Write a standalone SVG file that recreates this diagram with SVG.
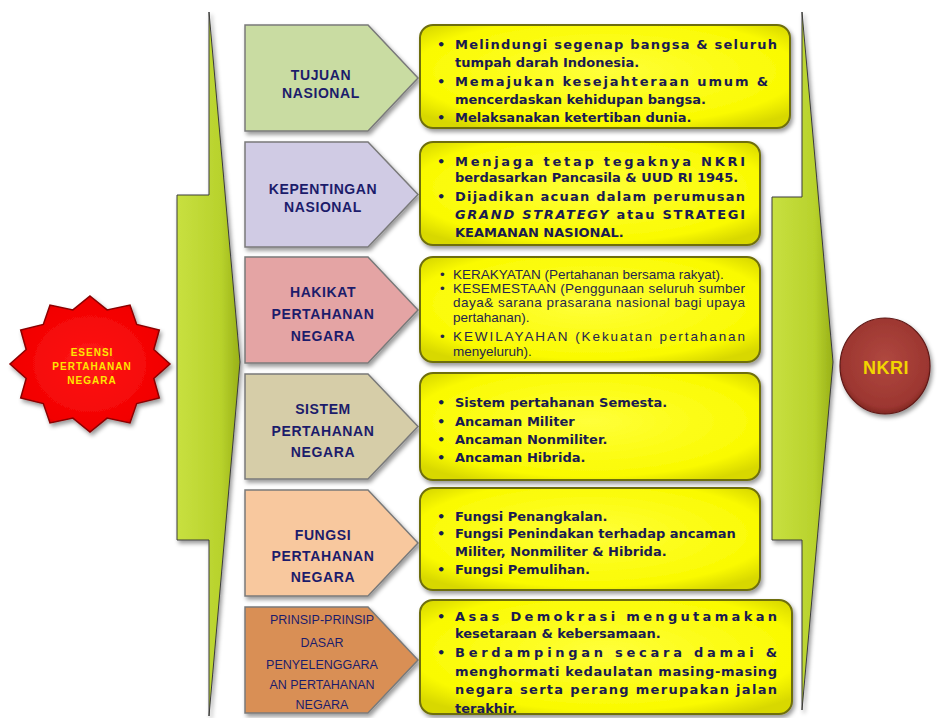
<svg xmlns="http://www.w3.org/2000/svg" width="937" height="718" viewBox="0 0 937 718">
<style>
.lb{font-family:"Liberation Sans",Arial,sans-serif;font-weight:bold;font-size:14px;fill:#1c1c6b;text-anchor:middle;letter-spacing:0.6px}
.lbs{font-family:"Liberation Sans",Arial,sans-serif;font-size:12.5px;fill:#1c1c6b;text-anchor:middle}
.yt{font-family:"DejaVu Sans",Verdana,sans-serif;font-weight:bold;font-size:13px;fill:#1a1a50}
.yr{font-family:"Liberation Sans",Arial,sans-serif;font-size:13.5px;fill:#25254d}
.bu{font-family:"DejaVu Sans",Verdana,sans-serif;font-weight:bold;font-size:13px;fill:#1a1a50}
.st{font-family:"Liberation Sans",Arial,sans-serif;font-weight:bold;font-size:10px;fill:#ffe600;text-anchor:middle;letter-spacing:1px}
.nk{font-family:"Liberation Sans",Arial,sans-serif;font-weight:bold;font-size:18px;fill:#f2d600;text-anchor:middle;letter-spacing:0.5px}
.yb{fill:url(#gy);stroke:#6e6e0c;stroke-width:2;filter:url(#sh)}
.pt{stroke:#7a7a7a;stroke-width:1.5;filter:url(#sh)}
.ga{fill:url(#gg);stroke:#3c3c3c;stroke-width:1;filter:url(#sh)}
</style>
<defs>
<filter id="sh" x="-10%" y="-10%" width="130%" height="130%"><feDropShadow dx="2" dy="3" stdDeviation="2" flood-color="#000" flood-opacity="0.4"/></filter>
<radialGradient id="gy" cx="50%" cy="45%" r="65%"><stop offset="0" stop-color="#ffff3a"/><stop offset="0.8" stop-color="#fafa00"/><stop offset="1" stop-color="#d8d800"/></radialGradient>
<linearGradient id="gg" x1="0" y1="0" x2="1" y2="0"><stop offset="0" stop-color="#c8e040"/><stop offset="0.7" stop-color="#b8d22c"/><stop offset="1" stop-color="#98b018"/></linearGradient>
<radialGradient id="gr" cx="50%" cy="50%" r="55%"><stop offset="0" stop-color="#ff1a1a"/><stop offset="0.85" stop-color="#f20000"/><stop offset="1" stop-color="#b80000"/></radialGradient>
<radialGradient id="gn" cx="50%" cy="45%" r="60%"><stop offset="0" stop-color="#b04840"/><stop offset="0.8" stop-color="#9c3630"/><stop offset="1" stop-color="#6e1c18"/></radialGradient>
</defs>
<rect width="937" height="718" fill="#ffffff"/>

<g id="connectors">
<path class="ga" d="M209,12 L240,362 L209,716 L209,540 L177,540 L177,195 L209,195 Z"/>
<path class="ga" d="M802,12 L833,362 L802,710 L802,540 L772,540 L772,197 L802,197 Z"/>
</g>

<g id="esensi">
<polygon points="90,296 107.1,309.9 130,305.1 136.7,324.4 159.3,330 153.8,349.5 170,364 153.8,378.5 159.3,398 136.7,403.6 130,422.9 107.1,418.1 90,432 72.9,418.1 50,422.9 43.3,403.6 20.7,398 26.2,378.5 10,364 26.2,349.5 20.7,330 43.3,324.4 50,305.1 72.9,309.9" fill="url(#gr)" stroke="#8b0000" stroke-width="1.5" filter="url(#sh)"/>
<text class="st" x="92" y="356">ESENSI</text>
<text class="st" x="92" y="370">PERTAHANAN</text>
<text class="st" x="92" y="384">NEGARA</text>
</g>

<g id="nkri">
<ellipse cx="885" cy="366" rx="45" ry="48" fill="url(#gn)" stroke="#5e1814" stroke-width="1.2" filter="url(#sh)"/>
<text class="nk" x="886" y="374">NKRI</text>
</g>

<g id="tujuan">
<path class="pt" fill="#c9dca2" d="M245,25 H368 L418,78 L368,131 H245 Z"/>
<text class="lb" x="321" y="80">TUJUAN</text>
<text class="lb" x="321" y="98">NASIONAL</text>
</g>
<g id="kepentingan">
<path class="pt" fill="#d0cbe4" d="M245,142 H368 L418,194.5 L368,247 H245 Z"/>
<text class="lb" x="323" y="194">KEPENTINGAN</text>
<text class="lb" x="323" y="212">NASIONAL</text>
</g>
<g id="hakikat">
<path class="pt" fill="#e4a4a4" d="M245,257 H368 L418,310 L368,363 H245 Z"/>
<text class="lb" x="323" y="297">HAKIKAT</text>
<text class="lb" x="323" y="319">PERTAHANAN</text>
<text class="lb" x="323" y="341">NEGARA</text>
</g>
<g id="sistem">
<path class="pt" fill="#d6cda8" d="M245,374 H368 L418,426.5 L368,479 H245 Z"/>
<text class="lb" x="323" y="414">SISTEM</text>
<text class="lb" x="323" y="436">PERTAHANAN</text>
<text class="lb" x="323" y="457">NEGARA</text>
</g>
<g id="fungsi">
<path class="pt" fill="#f8c89e" d="M245,490 H368 L418,543 L368,596 H245 Z"/>
<text class="lb" x="323" y="540">FUNGSI</text>
<text class="lb" x="323" y="561">PERTAHANAN</text>
<text class="lb" x="323" y="582">NEGARA</text>
</g>
<g id="prinsip">
<path class="pt" fill="#d98f54" d="M245,607 H368 L418,660 L368,713 H245 Z"/>
<text class="lbs" x="322" y="624">PRINSIP-PRINSIP</text>
<text class="lbs" x="322" y="647">DASAR</text>
<text class="lbs" x="322" y="669">PENYELENGGARA</text>
<text class="lbs" x="322" y="689">AN PERTAHANAN</text>
<text class="lbs" x="322" y="709">NEGARA</text>
</g>

<g id="box-tujuan">
<rect class="yb" x="420" y="25" width="370" height="103" rx="13"/>
<text class="bu" x="437" y="49">•</text><text class="bu" x="437" y="86">•</text><text class="bu" x="437" y="122">•</text>
<text class="yt" x="455" y="49" textLength="322" lengthAdjust="spacing">Melindungi segenap bangsa &amp; seluruh</text>
<text class="yt" x="455" y="67">tumpah darah Indonesia.</text>
<text class="yt" x="455" y="86" textLength="313" lengthAdjust="spacing">Memajukan kesejahteraan umum &amp;</text>
<text class="yt" x="455" y="104">mencerdaskan kehidupan bangsa.</text>
<text class="yt" x="455" y="122">Melaksanakan ketertiban dunia.</text>
</g>

<g id="box-kepentingan">
<rect class="yb" x="420" y="142" width="340" height="103" rx="13"/>
<text class="bu" x="437" y="166">•</text><text class="bu" x="437" y="201">•</text>
<text class="yt" x="455" y="166" textLength="290" lengthAdjust="spacing">Menjaga tetap tegaknya NKRI</text>
<text class="yt" x="455" y="182">berdasarkan Pancasila &amp; UUD RI 1945.</text>
<text class="yt" x="455" y="201" textLength="290" lengthAdjust="spacing">Dijadikan acuan dalam perumusan</text>
<text class="yt" x="455" y="219" textLength="290" lengthAdjust="spacing"><tspan font-style="italic">GRAND STRATEGY</tspan> atau STRATEGI</text>
<text class="yt" x="455" y="237">KEAMANAN NASIONAL.</text>
</g>

<g id="box-hakikat">
<rect class="yb" x="420" y="257" width="340" height="105" rx="13"/>
<text class="yr" x="440" y="279">•</text><text class="yr" x="440" y="293">•</text><text class="yr" x="440" y="341">•</text>
<text class="yr" x="453" y="279">KERAKYATAN (Pertahanan bersama rakyat).</text>
<text class="yr" x="453" y="293" textLength="292" lengthAdjust="spacing">KESEMESTAAN (Penggunaan seluruh sumber</text>
<text class="yr" x="453" y="307" textLength="292" lengthAdjust="spacing">daya&amp; sarana prasarana nasional bagi upaya</text>
<text class="yr" x="453" y="322">pertahanan).</text>
<text class="yr" x="453" y="341" textLength="292" lengthAdjust="spacing">KEWILAYAHAN (Kekuatan pertahanan</text>
<text class="yr" x="453" y="356">menyeluruh).</text>
</g>

<g id="box-sistem">
<rect class="yb" x="420" y="373" width="340" height="107" rx="13"/>
<text class="bu" x="437" y="407">•</text><text class="bu" x="437" y="426">•</text><text class="bu" x="437" y="444">•</text><text class="bu" x="437" y="462">•</text>
<text class="yt" x="455" y="407">Sistem pertahanan Semesta.</text>
<text class="yt" x="455" y="426">Ancaman Militer</text>
<text class="yt" x="455" y="444">Ancaman Nonmiliter.</text>
<text class="yt" x="455" y="462">Ancaman Hibrida.</text>
</g>

<g id="box-fungsi">
<rect class="yb" x="420" y="488" width="340" height="102" rx="13"/>
<text class="bu" x="437" y="521">•</text><text class="bu" x="437" y="538">•</text><text class="bu" x="437" y="574">•</text>
<text class="yt" x="455" y="521">Fungsi Penangkalan.</text>
<text class="yt" x="455" y="538">Fungsi Penindakan terhadap ancaman</text>
<text class="yt" x="455" y="556">Militer, Nonmiliter &amp; Hibrida.</text>
<text class="yt" x="455" y="574">Fungsi Pemulihan.</text>
</g>

<g id="box-prinsip">
<rect class="yb" x="420" y="600" width="372" height="114" rx="13"/>
<text class="bu" x="437" y="621">•</text><text class="bu" x="437" y="657">•</text>
<text class="yt" x="455" y="621" textLength="322" lengthAdjust="spacing">Asas Demokrasi mengutamakan</text>
<text class="yt" x="455" y="638">kesetaraan &amp; kebersamaan.</text>
<text class="yt" x="455" y="657" textLength="322" lengthAdjust="spacing">Berdampingan secara damai &amp;</text>
<text class="yt" x="455" y="676" textLength="322" lengthAdjust="spacing">menghormati kedaulatan masing-masing</text>
<text class="yt" x="455" y="694" textLength="322" lengthAdjust="spacing">negara serta perang merupakan jalan</text>
<text class="yt" x="455" y="713">terakhir.</text>
</g>
</svg>
